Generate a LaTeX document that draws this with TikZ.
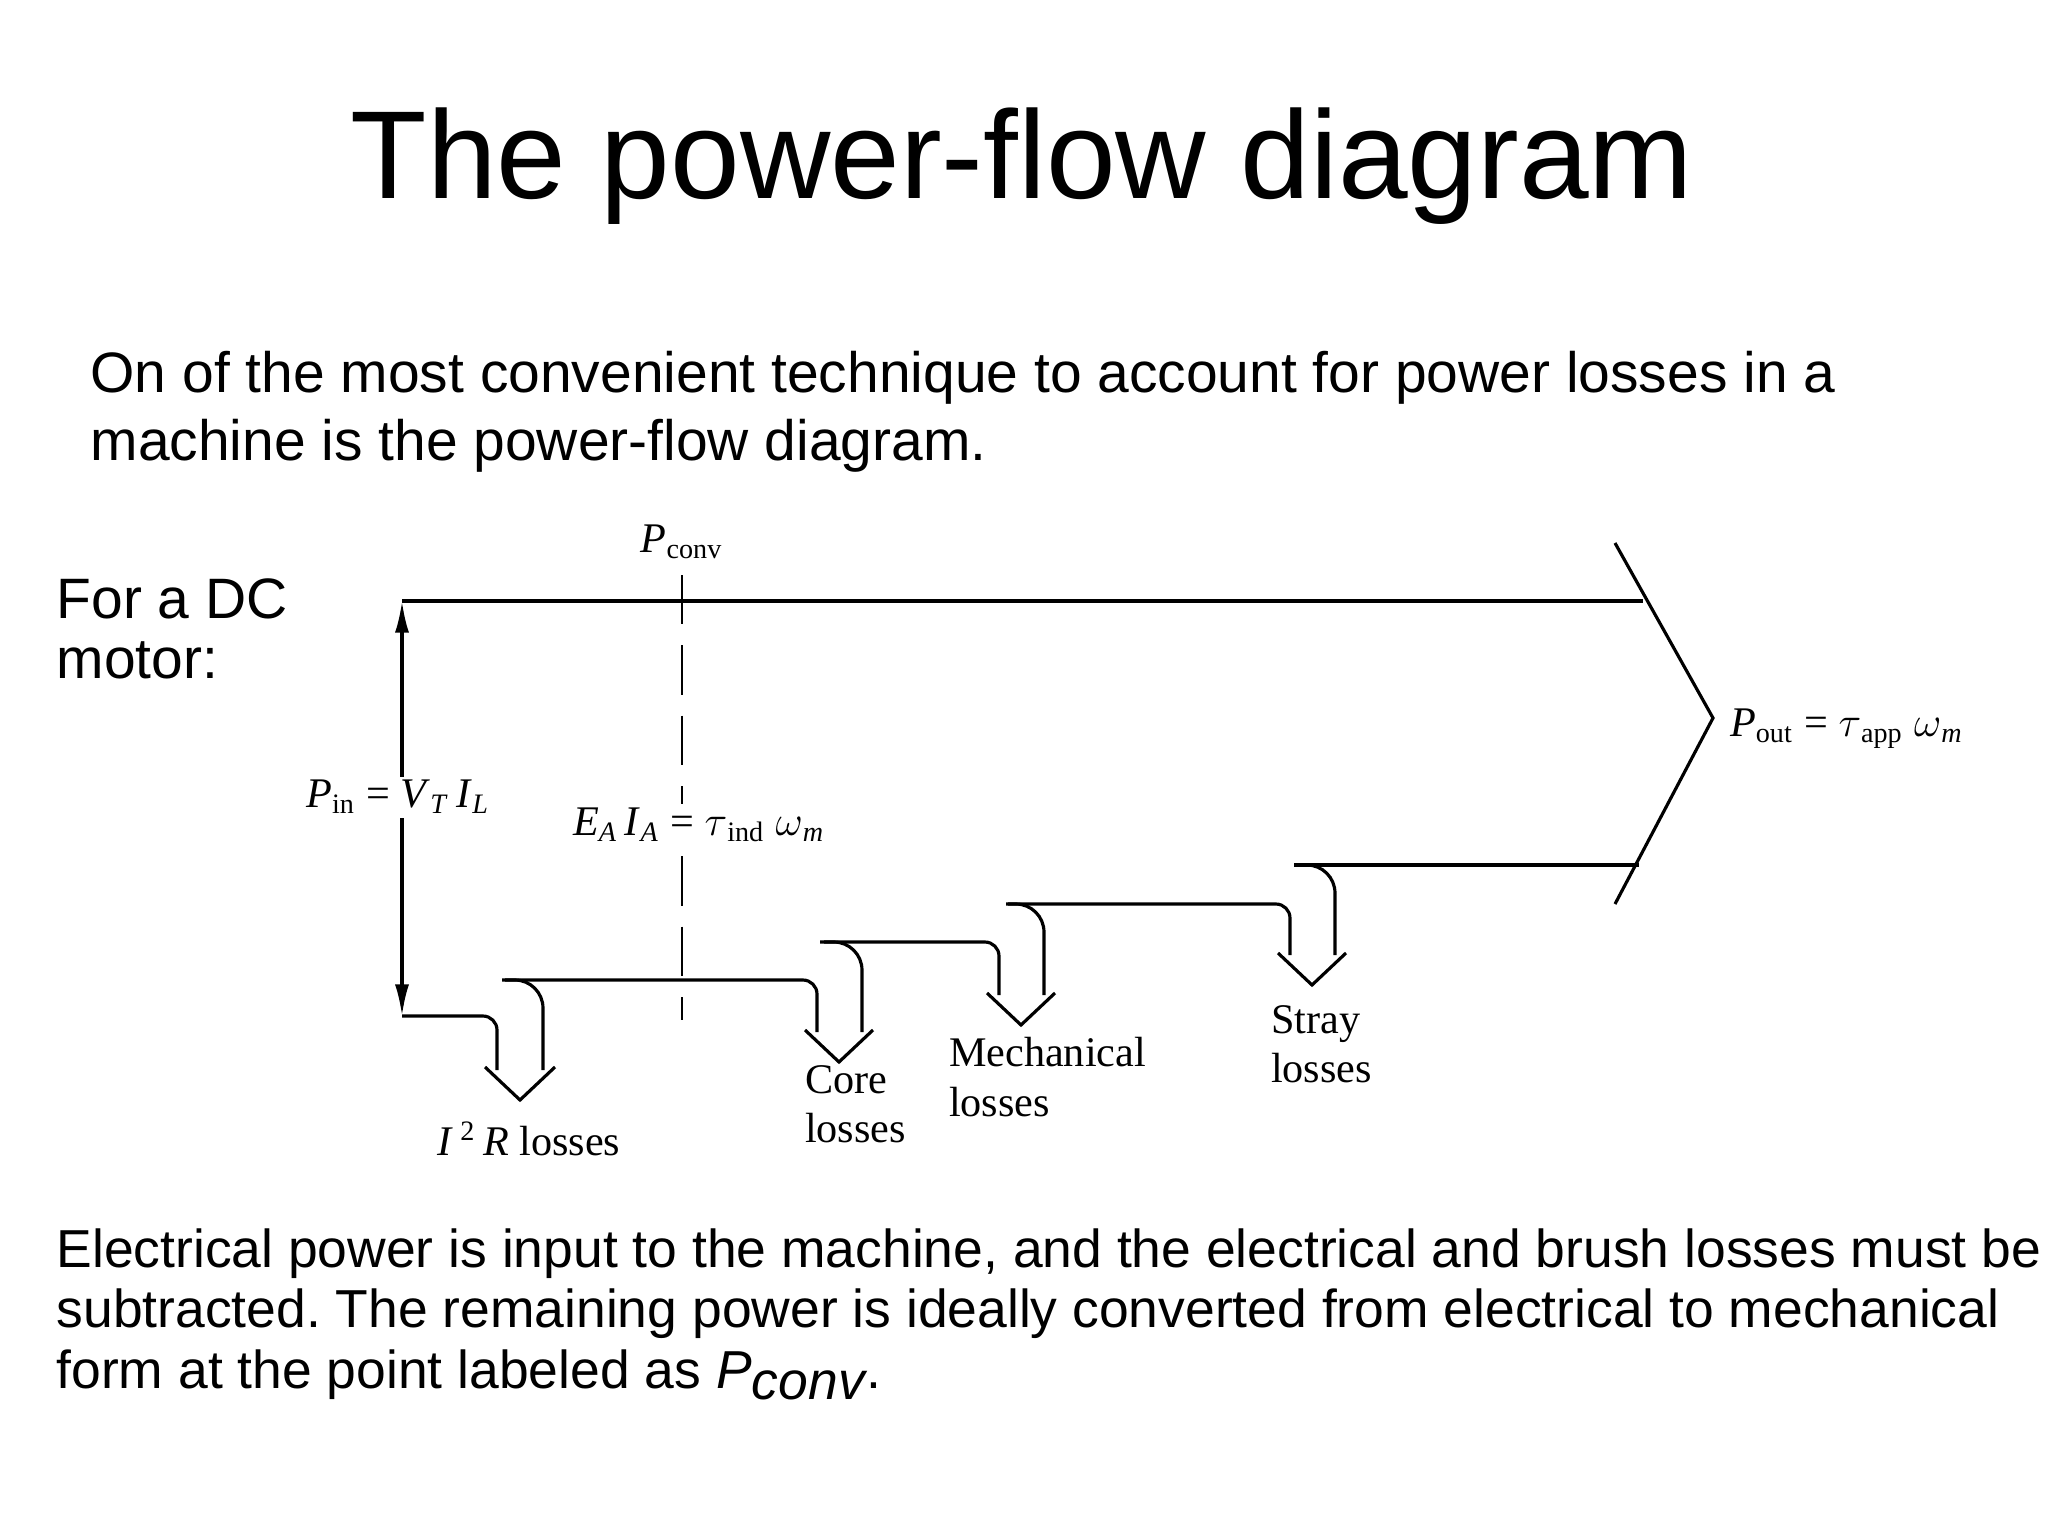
\documentclass[tikz,border=0pt]{standalone}
\usepackage{fontspec}
\setmainfont{Liberation Sans}
\newfontfamily\diagfont{Liberation Serif}
\usetikzlibrary{arrows.meta}
\newcommand\dsub[1]{\textsubscript{#1}}
\begin{document}
\frenchspacing
\begin{tikzpicture}[x=0.01cm, y=-0.01cm, line width=0.9pt,
    slide/.style={inner sep=0, anchor=base west, font=\fontsize{16.2}{20}\selectfont},
    lbl/.style={inner sep=1pt, font=\diagfont\fontsize{12}{14}\selectfont},
    loss/.style={rounded corners=4pt},
    shaft/.style={rounded corners=8pt}]
  \useasboundingbox (0,0) rectangle (2048,1536);

  % slide text
  \node[inner sep=0, anchor=base, font=\fontsize{35.6}{40}\selectfont] (title) at (1022,198) {The power-flow diagram};
  \node[slide] (intro1) at (89,392) {On of the most convenient technique to account for power losses in a};
  \node[slide] (intro2) at (89,460) {machine is the power-flow diagram.};
  \node[slide] (dc1) at (55,618) {For a DC};
  \node[slide] (dc2) at (55,678) {motor:};
  \node[slide, font=\fontsize{15.2}{18}\selectfont] (end1) at (55,1267) {Electrical power is input to the machine, and the electrical and brush losses must be};
  \node[slide, font=\fontsize{15.2}{18}\selectfont] (end2) at (55,1327) {subtracted. The remaining power is ideally converted from electrical to mechanical};
  \node[slide, font=\fontsize{15.2}{18}\selectfont] (end3) at (55,1388) {form at the point labeled as \textit{P}$_{\textit{conv}}$.};

  % main flow
  \coordinate (pintop) at (402,601);
  \coordinate (pinbot) at (402,1016);
  \coordinate (chtop) at (1615,543);
  \coordinate (chtip) at (1713,718);
  \coordinate (chbot) at (1615,904);
  \draw[{Latex[length=9pt,width=4pt]}-{Latex[length=9pt,width=4pt]}] (pintop) -- (pinbot);
  \draw (pintop) -- (1643,601);
  \draw (chtop) -- (chtip) -- (chbot);

  % losses
  \draw[loss] (pinbot) -- (497,1016) -- (497,1070);
  \draw[loss] (502,980) -- (817,980) -- (817,1032);
  \draw[loss] (820,942) -- (999,942) -- (999,995);
  \draw[loss] (1006,904) -- (1290,904) -- (1290,955);
  \draw (1294,865) -- (1639,865);
  \draw[shaft] (543,1070) -- (543,980) -- (505,980);
  \draw[shaft] (862,1032) -- (862,942) -- (824,942);
  \draw[shaft] (1044,995) -- (1044,904) -- (1008,904);
  \draw[shaft] (1335,955) -- (1335,865) -- (1297,865);
  \draw (485,1067) -- (520,1100) -- (555,1067);
  \draw (805,1030) -- (839,1062) -- (873,1030);
  \draw (987,993) -- (1021,1025) -- (1055,993);
  \draw (1278,953) -- (1312,985) -- (1346,953);

  % conversion point
  \coordinate (convtop) at (682,575);
  \coordinate (convbot) at (682,1020);
  \draw[dashed, dash pattern=on 14pt off 6pt, line width=0.7pt] (convtop) -- (convbot);

  % labels
  \node[lbl, fill=white] (pconv) at (682,542) {\textit{P}\dsub{conv}};
  \node[lbl, fill=white] (pin) at (398,797) {\textit{P}\dsub{in} = \textit{V}\dsub{\textit{T}}\,\textit{I}\dsub{\textit{L}}};
  \node[lbl, fill=white] (eaia) at (699,825) {\textit{E}\dsub{\textit{A}}\,\textit{I}\dsub{\textit{A}} = $\tau$\dsub{ind}\ $\omega$\dsub{\textit{m}}};
  \node[lbl, anchor=west] (pout) at (1725,729) {\textit{P}\dsub{out} = $\tau$\dsub{app}\ $\omega$\dsub{\textit{m}}};
  \node[lbl] (i2r) at (529,1139) {\textit{I}\,\textsuperscript{2}\,\textit{R} losses};
  \node[lbl, anchor=west, align=left] (core) at (800,1104) {Core\\losses};
  \node[lbl, anchor=west, align=left] (mech) at (944,1077) {Mechanical\\losses};
  \node[lbl, anchor=west, align=left] (stray) at (1266,1044) {Stray\\losses};
\end{tikzpicture}
\end{document}
